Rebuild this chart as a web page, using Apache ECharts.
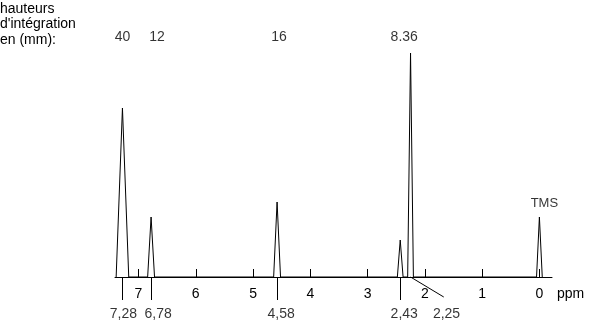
<!DOCTYPE html>
<html>
<head>
<meta charset="utf-8">
<script src="https://cdn.jsdelivr.net/npm/echarts@6/dist/echarts.min.js"></script>
<style>
html,body{margin:0;padding:0;background:#fff;}
#chart{width:592px;height:323px;}
</style>
</head>
<body>
<div id="chart"></div>
<script>
// ---- data ----
const peakShifts = [7.28, 6.78, 4.58, 2.43, 2.25, 0];          // ppm
const peakHeights = [169, 60, 75, 37, 224, 60];                // signal height (arb.)
const peakHalfWidths = [0.11, 0.06, 0.06, 0.05, 0.05, 0.05];   // ppm
const integrationLabels = ['40', '12', '16', '8.36'];
const integrationShifts = [7.28, 6.78, 4.58, 2.43];
const shiftLabels = ['7,28', '6,78', '4,58', '2,43', '2,25'];
const shiftValues = [7.28, 6.78, 4.58, 2.43, 2.25];
const tickValues = [0, 1, 2, 3, 4, 5, 6, 7];
const refLabel = 'TMS';
const refShift = 0;
const refHeight = 60;

// ---- layout / style ----
const FONT = "'Liberation Sans', Arial, sans-serif";
const Y_MIN = 0, Y_MAX = 277;
const integrationLevel = 240;
const shiftLabelLevel = -37;
const markerDepth = -23;
const integrationOffsets = [[0,0],[6,0],[2,0],[4,0]];
const shiftLabelOffsets = [[1,0],[7,0],[4,0],[4,0],[36,0]];
const leaderEnd = [1.67, -20];

const peakData = [];
peakShifts.forEach((c, i) => {
  const w = peakHalfWidths[i];
  peakData.push([c + w, 0], [c, peakHeights[i]], [c - w, 0]);
});

const markerLines = shiftValues.map((s, i) => {
  if (i === 4) return { coords: [[s, 0], leaderEnd] };
  return { coords: [[s, 0], [s, markerDepth]] };
});

const textStyle = { color: '#000', fontSize: 14, fontFamily: FONT };

const chart = echarts.init(document.getElementById('chart'), null, { renderer: 'canvas' });
chart.setOption({
  animation: false,
  backgroundColor: '#fff',
  grid: { left: 115, right: 40, top: 0, bottom: 46, containLabel: false, outerBoundsMode: 'none' },
  xAxis: {
    type: 'value',
    inverse: true,
    min: -0.22,
    max: 7.41,
    name: 'ppm',
    nameLocation: 'start',
    nameGap: 5,
    nameTextStyle: Object.assign({}, textStyle, { align: 'left', verticalAlign: 'top', padding: [10, 0, 0, 0] }),
    axisLine: { onZero: false, lineStyle: { color: '#000', width: 1 } },
    axisTick: { show: true, inside: true, length: 8, customValues: tickValues, lineStyle: { color: '#000' } },
    axisLabel: Object.assign({ margin: 10, customValues: tickValues }, textStyle),
    splitLine: { show: false }
  },
  yAxis: {
    type: 'value',
    min: Y_MIN,
    max: Y_MAX,
    show: false
  },
  graphic: [{
    type: 'text',
    left: 0,
    top: 1,
    style: {
      text: "hauteurs\nd'intégration\nen (mm):",
      font: "14px " + FONT,
      fill: '#000',
      lineHeight: 15.5
    }
  }],
  series: [
    {
      type: 'line',
      data: peakData,
      symbol: 'none',
      clip: false,
      lineStyle: { color: '#000', width: 1 },
      z: 3
    },
    {
      type: 'lines',
      coordinateSystem: 'cartesian2d',
      clip: false,
      data: markerLines,
      lineStyle: { color: '#000', width: 1, opacity: 1 },
      z: 3
    },
    {
      type: 'scatter',
      symbolSize: 0,
      clip: false,
      data: integrationLabels.map((t, i) => ({
        value: [integrationShifts[i], integrationLevel],
        label: { formatter: t, offset: integrationOffsets[i] }
      })),
      label: Object.assign({ show: true, position: 'inside' }, textStyle)
    },
    {
      type: 'scatter',
      symbolSize: 0,
      clip: false,
      data: shiftLabels.map((t, i) => ({
        value: [shiftValues[i], shiftLabelLevel],
        label: { formatter: t, offset: shiftLabelOffsets[i] }
      })),
      label: Object.assign({ show: true, position: 'inside' }, textStyle)
    },
    {
      type: 'scatter',
      symbolSize: 0,
      clip: false,
      data: [{ value: [refShift, refHeight], label: { formatter: refLabel } }],
      label: Object.assign({ show: true, position: 'top', distance: 7, offset: [5, 0] }, textStyle, { fontSize: 13 })
    }
  ]
});
</script>
</body>
</html>
